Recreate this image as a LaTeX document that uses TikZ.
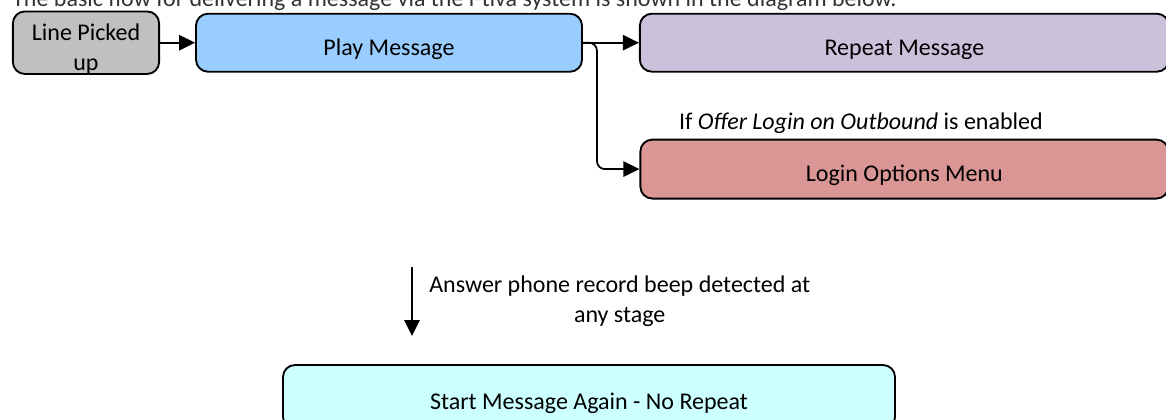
\documentclass[tikz,border=0pt]{standalone}
\usepackage{fontspec}
\setmainfont{Carlito}
\usetikzlibrary{positioning}
\usetikzlibrary{arrows.meta}
\definecolor{pickgray}{HTML}{C0C0C0}
\definecolor{playblue}{HTML}{99CCFF}
\definecolor{repeatlilac}{HTML}{CCC1DA}
\definecolor{loginred}{HTML}{D99694}
\definecolor{startcyan}{HTML}{CCFFFF}
\tikzset{box node/.style={rectangle,rounded corners=9pt,draw,line width=1.4pt,inner sep=0pt,align=center,minimum height=43.5pt},
  low text/.style={text height=19.5pt,text depth=0.4pt},}

\begin{document}
\begin{tikzpicture}[x=0.75pt,y=0.75pt,font=\fontsize{18}{22.5}\selectfont,>={Triangle[length=12pt,width=11.5pt]}]
          \useasboundingbox (0,0) rectangle (1166,-419);
          \node[anchor=base west,inner sep=0pt,text=black!80] (intro) at (12,-6) {The basic flow for delivering a message via the i-tiva system is shown in the diagram below.};

          \node[box node,fill=pickgray,minimum width=109.7pt,minimum height=45.5pt] (1) at (86,-42.7) {\rule{0pt}{21.5pt}Line Picked\\up};
          \node[box node,low text,fill=playblue,minimum width=289.5pt] (2) [right = 26.25pt of 1] {Play Message};
          \node[box node,low text,fill=repeatlilac,minimum width=396.75pt] (3) [right = 42pt of 2] {Repeat Message};
          \node[box node,low text,fill=loginred,minimum width=396pt,minimum height=44.25pt] (4) [below = 49.5pt of 3] {Login Options Menu};
          \node[box node,low text,fill=startcyan,minimum width=459pt,minimum height=48pt] (5) at (589,-397) {Start Message Again - No Repeat};

          \node[anchor=base east,inner sep=0pt] (if) at (1043,-129) {If \textit{Offer Login on Outbound} is enabled};
          \coordinate (top) at (412,-267);
          \coordinate (tip) at (412,-336);
          \coordinate (mid) at (412,-301.5);
          \node[inner sep=0pt,align=center] (beep) [right = 12.75pt of mid] {Answer phone record beep detected at\\any stage};
          \coordinate[right = 10.5pt of 2] (split);

          \path[->,line width=1.3pt]
          (1) edge node {} (2)
          (2) edge node {} (3)
          (top) edge node {} (tip);
          \draw[->,line width=1.3pt,rounded corners=6pt] (2.east) -- (split) |- (4);
        \end{tikzpicture}
\end{document}
